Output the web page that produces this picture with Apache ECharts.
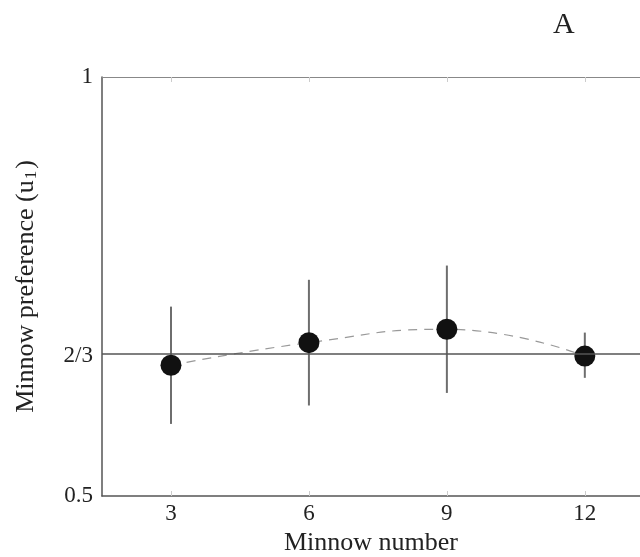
<!DOCTYPE html>
<html>
<head>
<meta charset="utf-8">
<script src="https://cdn.jsdelivr.net/npm/echarts@6/dist/echarts.min.js"></script>
<style>html,body{margin:0;padding:0;background:#fff;}#c{width:640px;height:557px;}</style>
</head>
<body>
<div id="c"></div>
<script>
var minnowNumbers = [3, 6, 9, 12];
var meanPref = [0.656, 0.683, 0.699, 0.667];
var errLow = [0.586, 0.608, 0.623, 0.641];
var errHigh = [0.726, 0.758, 0.775, 0.695];
var xTickValues = [3, 6, 9, 12];
var yTickValues = [0.5, 2 / 3, 1];
var yTickLabels = ['0.5', '2/3', '1'];
var referenceLevel = 2 / 3;

var serif = '"Liberation Serif", "DejaVu Serif", serif';
var chart = echarts.init(document.getElementById('c'));

var points = minnowNumbers.map(function (x, i) { return [x, meanPref[i]]; });
var bars = minnowNumbers.map(function (x, i) { return [x, errLow[i], errHigh[i]]; });

chart.setOption({
  animation: false,
  backgroundColor: '#fff',
  title: {
    text: 'A',
    left: 548, top: 5,
    textStyle: { fontFamily: serif, fontSize: 30, fontWeight: 'normal', color: '#222' }
  },
  grid: { left: 102, top: 77, right: 0, height: 419, containLabel: false, outerBoundsMode: 'none' },
  xAxis: [{
    type: 'value', min: 1.5, max: 13.2,
    position: 'bottom',
    name: 'Minnow number', nameLocation: 'middle', nameGap: 27,
    nameTextStyle: { fontFamily: serif, fontSize: 26, color: '#222' },
    axisLine: { show: true, lineStyle: { color: '#555', width: 1.5 } },
    axisTick: { show: true, inside: true, length: 5, customValues: xTickValues, lineStyle: { color: '#ccc' } },
    splitLine: { show: false },
    axisLabel: { customValues: xTickValues, margin: 6, fontFamily: serif, fontSize: 23, color: '#222' }
  }, {
    type: 'value', min: 1.5, max: 13.2,
    position: 'top',
    axisLine: { show: true, lineStyle: { color: '#888', width: 1 } },
    axisTick: { show: true, inside: true, length: 5, customValues: xTickValues, lineStyle: { color: '#ccc' } },
    axisLabel: { show: false },
    splitLine: { show: false }
  }],
  yAxis: {
    type: 'value', min: 0.5, max: 1,
    name: 'Minnow preference (u{sub|1})', nameLocation: 'middle', nameGap: 62,
    nameTextStyle: {
      fontFamily: serif, fontSize: 26, color: '#222',
      rich: { sub: { fontFamily: serif, fontSize: 17, color: '#222', verticalAlign: 'bottom', padding: [11, 2, 0, 1] } }
    },
    axisLine: { show: true, lineStyle: { color: '#555', width: 1.5 } },
    axisTick: { show: false },
    splitLine: { show: false },
    axisLabel: {
      customValues: yTickValues, margin: 9, fontFamily: serif, fontSize: 23, color: '#222',
      formatter: function (v) {
        for (var i = 0; i < yTickValues.length; i++) {
          if (Math.abs(v - yTickValues[i]) < 1e-6) return yTickLabels[i];
        }
        return '';
      }
    }
  },
  series: [{
    type: 'line',
    data: points,
    smooth: 0.5,
    symbol: 'none',
    lineStyle: { color: '#999', width: 1.2, type: [9, 7] },
    markLine: {
      silent: true, symbol: 'none', label: { show: false },
      lineStyle: { color: '#555', width: 1.5, type: 'solid' },
      data: [{ yAxis: referenceLevel }]
    },
    z: 2
  }, {
    type: 'custom',
    data: bars,
    renderItem: function (params, api) {
      var lo = api.coord([api.value(0), api.value(1)]);
      var hi = api.coord([api.value(0), api.value(2)]);
      return {
        type: 'line',
        shape: { x1: lo[0], y1: lo[1], x2: hi[0], y2: hi[1] },
        style: { stroke: '#6e6e6e', lineWidth: 2 }
      };
    },
    z: 3
  }, {
    type: 'scatter',
    data: points,
    symbol: 'circle',
    symbolSize: 21,
    itemStyle: { color: '#111', opacity: 1 },
    z: 4
  }]
});
</script>
</body>
</html>
